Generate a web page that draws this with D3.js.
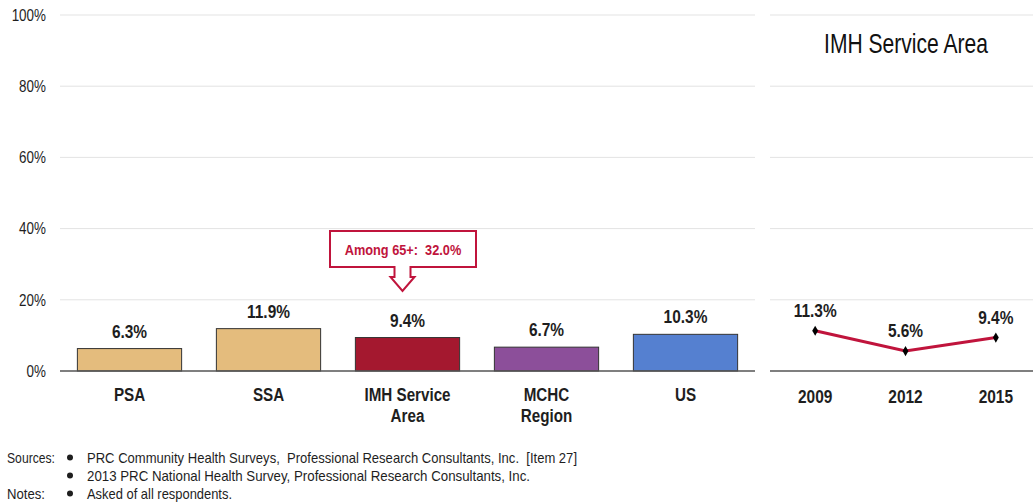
<!DOCTYPE html>
<html>
<head>
<meta charset="utf-8">
<script src="https://cdn.jsdelivr.net/npm/d3@7"></script>
<style>
  html, body { margin: 0; padding: 0; background: #fff; }
  svg { display: block; font-family: "Liberation Sans Narrow", "Arial Narrow", "Liberation Sans", Arial, sans-serif; }
</style>
</head>
<body>
<svg id="chart" width="1033" height="504"></svg>
<script>
// Area comparison (left panel)
const categories = ["PSA", "SSA", "IMH Service|Area", "MCHC|Region", "US"];
const values = [6.3, 11.9, 9.4, 6.7, 10.3];
const barColors = ["#E4BC7D", "#E4BC7D", "#A4182F", "#8C4F9A", "#5580D0"];

// Trend for IMH Service Area (right panel)
const years = ["2009", "2012", "2015"];
const trendValues = [11.3, 5.6, 9.4];

const yTicks = [0, 20, 40, 60, 80, 100];
const calloutText = "Among 65+:  32.0%";

const sourceLines = [
  ["Sources:", "PRC Community Health Surveys,  Professional Research Consultants, Inc.  [Item 27]"],
  ["", "2013 PRC National Health Survey, Professional Research Consultants, Inc."],
  ["Notes:", "Asked of all respondents."]
];

const svg = d3.select("#chart");
const crimson = "#C0143C";
const ink = "#1e1e1e";

// Condensed text: placed with a translate and squeezed horizontally
function label(parent, x, y, str, o) {
  const t = parent.append("text")
    .attr("transform", `translate(${x},${y}) scale(${o.sx || 1},1)`)
    .attr("text-anchor", o.anchor || "middle")
    .attr("font-size", o.size)
    .attr("font-weight", o.weight || "normal")
    .attr("fill", o.fill || ink)
    .style("white-space", "pre")
    .text(str);
  return t;
}

const y = d3.scaleLinear().domain([0, 100]).range([371, 15]);
const x = d3.scaleBand().domain(categories).range([60, 755]).paddingInner(0.25).paddingOuter(0.125);
const xr = d3.scalePoint().domain(years).range([770, 1041]).padding(0.5);

// Gridlines
svg.append("g").selectAll("line").data(yTicks.filter(d => d > 0)).join("line")
  .attr("x1", 60).attr("x2", 755)
  .attr("y1", d => y(d)).attr("y2", d => y(d))
  .attr("stroke", "#e3e3e3").attr("stroke-width", 1);
svg.append("g").selectAll("line").data(yTicks.filter(d => d > 0)).join("line")
  .attr("x1", 770).attr("x2", 1033)
  .attr("y1", d => y(d)).attr("y2", d => y(d))
  .attr("stroke", "#e3e3e3").attr("stroke-width", 1);

// Y tick labels
const yG = svg.append("g");
yTicks.forEach(d => label(yG, 46, y(d) + 5.8, d + "%", { size: 16, sx: 0.84, anchor: "end" }));

// Bars
svg.append("g").selectAll("rect").data(categories).join("rect")
  .attr("x", d => x(d))
  .attr("width", x.bandwidth())
  .attr("y", (d, i) => y(values[i]))
  .attr("height", (d, i) => y(0) - y(values[i]))
  .attr("fill", (d, i) => barColors[i])
  .attr("stroke", "#333")
  .attr("stroke-width", 1);

// Baseline
svg.append("line").attr("x1", 60).attr("x2", 755).attr("y1", y(0)).attr("y2", y(0))
  .attr("stroke", "#555").attr("stroke-width", 1.3);

// Value labels
const vG = svg.append("g");
categories.forEach((d, i) => label(vG, x(d) + x.bandwidth() / 2, y(values[i]) - 11,
  values[i].toFixed(1) + "%", { size: 18, weight: "bold", sx: 0.86 }));

// Category labels
const cG = svg.append("g");
categories.forEach(d => {
  d.split("|").forEach((p, j) => label(cG, x(d) + x.bandwidth() / 2, 401 + j * 21, p,
    { size: 19, weight: "bold", sx: 0.8 }));
});

// Callout over IMH Service Area
const cx = x(categories[2]) + x.bandwidth() / 2 - 5;
const bx0 = 330, bx1 = 476, by0 = 231, by1 = 267;
const calloutPath = [
  [bx0, by0], [bx1, by0], [bx1, by1], [cx + 8, by1], [cx + 8, by1 + 10],
  [cx + 12, by1 + 10], [cx, by1 + 24], [cx - 12, by1 + 10], [cx - 8, by1 + 10],
  [cx - 8, by1], [bx0, by1]
];
svg.append("path")
  .attr("d", d3.line()(calloutPath) + "Z")
  .attr("fill", "#fff").attr("stroke", crimson).attr("stroke-width", 2)
  .attr("stroke-linejoin", "miter");
label(svg, (bx0 + bx1) / 2, 255, calloutText, { size: 14.5, weight: "bold", sx: 0.88, fill: crimson });

// Right panel
label(svg, 906, 53, "IMH Service Area", { size: 27, sx: 0.78, fill: "#111" });

svg.append("line").attr("x1", 770).attr("x2", 1033).attr("y1", y(0)).attr("y2", y(0))
  .attr("stroke", "#555").attr("stroke-width", 1.3);

svg.append("path")
  .datum(years)
  .attr("d", d3.line().x(d => xr(d)).y((d, i) => y(trendValues[i])))
  .attr("fill", "none").attr("stroke", crimson).attr("stroke-width", 3);

svg.append("g").selectAll("path").data(years).join("path")
  .attr("transform", (d, i) => `translate(${xr(d)},${y(trendValues[i])})`)
  .attr("d", d3.symbol().type(d3.symbolDiamond).size(30))
  .attr("fill", "#000");

const tG = svg.append("g");
years.forEach((d, i) => label(tG, xr(d), y(trendValues[i]) - 14,
  trendValues[i].toFixed(1) + "%", { size: 18, weight: "bold", sx: 0.86 }));
years.forEach(d => label(tG, xr(d), 403, d, { size: 18, weight: "bold", sx: 0.86 }));

// Footer
const foot = svg.append("g");
const footWidths = [490, 443, 145];
const headWidths = { "Sources:": 48, "Notes:": 38 };
sourceLines.forEach((row, i) => {
  const yy = 462.5 + i * 18;
  if (row[0]) {
    foot.append("text").attr("x", 7).attr("y", yy)
      .attr("font-size", 15).attr("fill", ink)
      .attr("textLength", headWidths[row[0]]).attr("lengthAdjust", "spacingAndGlyphs")
      .text(row[0]);
  }
  foot.append("circle").attr("cx", 70).attr("cy", yy - 5).attr("r", 3).attr("fill", ink);
  foot.append("text").attr("x", 87).attr("y", yy)
    .attr("font-size", 15).attr("fill", ink)
    .attr("textLength", footWidths[i]).attr("lengthAdjust", "spacingAndGlyphs")
    .style("white-space", "pre").text(row[1]);
});
</script>
</body>
</html>
